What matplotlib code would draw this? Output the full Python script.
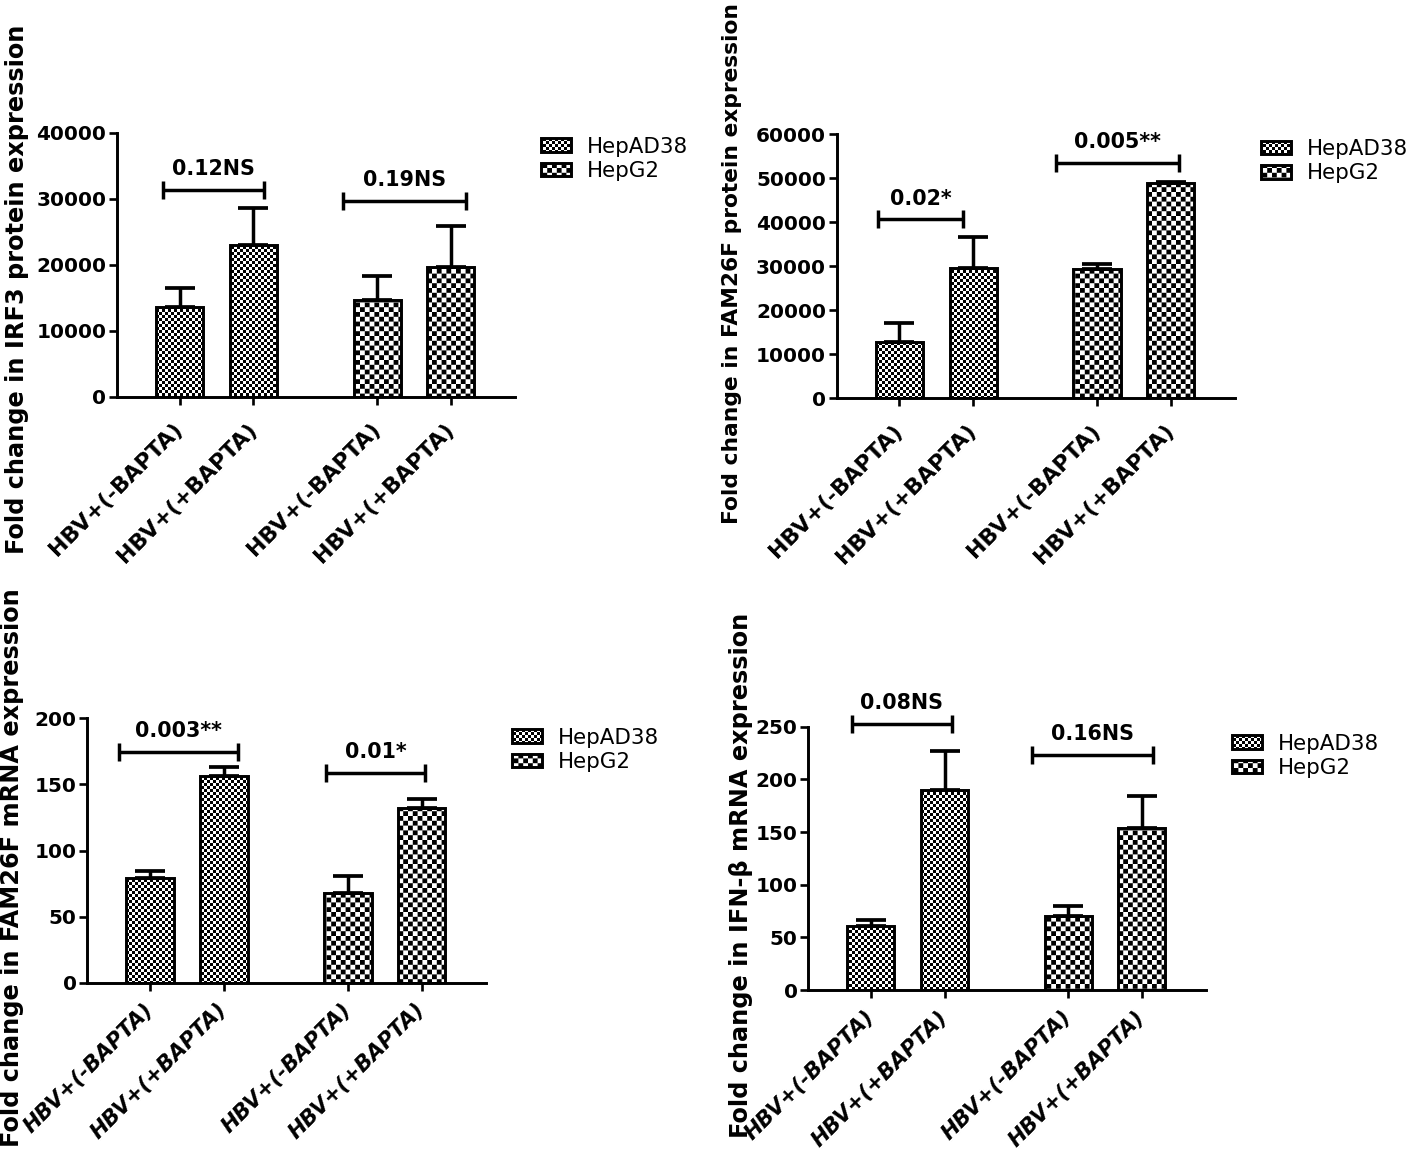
import numpy as np
import matplotlib
matplotlib.use('Agg')
import matplotlib.pyplot as plt
import matplotlib.hatch as mhatch
from matplotlib.path import Path

W, H, DPI = 1418, 1156, 96

# ---- data -------------------------------------------------------------
groups = ['HBV+(-BAPTA)', 'HBV+(+BAPTA)', 'HBV+(-BAPTA)', 'HBV+(+BAPTA)']
cell_lines = ['HepAD38', 'HepG2']

irf3_prot_mean = [13700, 23100, 14700, 19700]
irf3_prot_sem = [2800, 5600, 3600, 6200]
irf3_prot_p = ['0.12NS', '0.19NS']
irf3_prot_bracket = [31400, 29700]

fam_prot_mean = [12800, 29600, 29300, 48900]
fam_prot_sem = [4400, 7150, 1150, 350]
fam_prot_p = ['0.02*', '0.005**']
fam_prot_bracket = [40700, 53500]

fam_mrna_mean = [79, 156, 68, 132]
fam_mrna_sem = [5.5, 7, 12.5, 7]
fam_mrna_p = ['0.003**', '0.01*']
fam_mrna_bracket = [174.7, 158.9]

ifnb_mrna_mean = [61, 190, 70, 154]
ifnb_mrna_sem = [5.5, 37, 9.5, 30]
ifnb_mrna_p = ['0.08NS', '0.16NS']
ifnb_mrna_bracket = [253, 223]


# ---- checkerboard fill as a hatch pattern ------------------------------
class CheckerHatch(mhatch.HatchPatternBase):
    """Filled checkerboard, two cells per hatch character."""

    def __init__(self, hatch, density):
        self.n = 2 * (hatch.count('.') + hatch.count('o'))
        self.num_vertices = (self.n * self.n // 2) * 5

    def set_vertices_and_codes(self, vertices, codes):
        s = 1.0 / self.n
        sq = np.array([[0, 0], [s, 0], [s, s], [0, s], [0, 0]])
        sq_codes = [Path.MOVETO, Path.LINETO, Path.LINETO, Path.LINETO, Path.CLOSEPOLY]
        parts, cparts = [], []
        for i in range(self.n):
            for j in range(self.n):
                if (i + j) % 2 == 0:
                    parts.append(sq + [i * s, j * s])
                    cparts.append(sq_codes)
        vertices[:] = np.concatenate(parts)
        codes[:] = np.concatenate(cparts)


mhatch._hatch_types[:] = [CheckerHatch]
plt.rcParams['hatch.linewidth'] = 0.0
FINE = '.' * 16     # 32 cells per tile
COARSE = 'o' * 10   # 20 cells per tile

pos = np.array([0, 1, 2.68, 3.68])
XLIM = (-0.85, 4.55)

panels = [
    dict(mean=irf3_prot_mean, sem=irf3_prot_sem, p=irf3_prot_p, by=irf3_prot_bracket,
         spans=[(-0.23, 1.14), (2.21, 3.88)], ymax=40000, step=10000,
         ylabel='Fold change in IRF3 protein expression', ylab_fs=18,
         box=(117, 133, 515, 397), ylab=(17, 289), leg=(540.7, 136.6), italic=False),
    dict(mean=fam_prot_mean, sem=fam_prot_sem, p=fam_prot_p, by=fam_prot_bracket,
         spans=[(-0.29, 0.86), (2.12, 3.79)], ymax=60000, step=10000,
         ylabel='Fold change in FAM26F protein expression', ylab_fs=16.3,
         box=(836.7, 134.3, 1235, 398.3), ylab=(732, 264), leg=(1260.7, 139), italic=False),
    dict(mean=fam_mrna_mean, sem=fam_mrna_sem, p=fam_mrna_p, by=fam_mrna_bracket,
         spans=[(-0.42, 1.19), (2.38, 3.73)], ymax=200, step=50,
         ylabel='Fold change in FAM26F mRNA expression', ylab_fs=18,
         box=(87.3, 718.3, 486, 982.7), ylab=(12, 868), leg=(512, 727.6), italic=True),
    dict(mean=ifnb_mrna_mean, sem=ifnb_mrna_sem, p=ifnb_mrna_p, by=ifnb_mrna_bracket,
         spans=[(-0.26, 1.10), (2.19, 3.83)], ymax=250, step=50,
         ylabel='Fold change in IFN-\u03b2 mRNA expression', ylab_fs=18,
         box=(808.3, 726.7, 1206, 990), ylab=(741, 875), leg=(1232, 733.6), italic=True),
]

fig = plt.figure(figsize=(W / DPI, H / DPI), dpi=DPI)

for pn in panels:
    l, t, r, b = pn['box']
    ax = fig.add_axes([l / W, 1 - b / H, (r - l) / W, (b - t) / H])
    mean = np.array(pn['mean'])
    sem = np.array(pn['sem'])
    ekw = dict(elinewidth=2.6, capsize=11.5, capthick=2.8, ecolor='k')
    b1 = ax.bar(pos[:2], mean[:2], 0.64, yerr=[np.zeros(2), sem[:2]], color='white',
                edgecolor='black', linewidth=2.2, hatch=FINE, label=cell_lines[0], error_kw=ekw)
    b2 = ax.bar(pos[2:], mean[2:], 0.64, yerr=[np.zeros(2), sem[2:]], color='white',
                edgecolor='black', linewidth=2.2, hatch=COARSE, label=cell_lines[1], error_kw=ekw)

    # significance brackets
    for (x0, x1), y, txt in zip(pn['spans'], pn['by'], pn['p']):
        ax.plot([x0, x1], [y, y], color='k', lw=2.6, marker='|', ms=13, mew=2.6,
                clip_on=False, solid_capstyle='butt')
        ax.annotate(txt, xy=((x0 + x1) / 2, y), xytext=(0, 8), textcoords='offset points',
                    ha='center', va='bottom', fontsize=15.5, fontweight='bold',
                    annotation_clip=False)

    ax.set_xlim(*XLIM)
    ax.set_ylim(0, pn['ymax'])
    ax.set_yticks(np.arange(0, pn['ymax'] + 1, pn['step']))
    ax.set_xticks(pos)
    ax.set_xticklabels(groups, rotation=45, ha='right', va='center', rotation_mode='anchor',
                       fontsize=16 if pn['italic'] else 16.5, fontweight='bold',
                       fontstyle='italic' if pn['italic'] else 'normal')
    for lab in ax.get_yticklabels():
        lab.set_fontweight('bold')
        lab.set_fontsize(15)
    ax.tick_params(axis='both', direction='out', length=6, width=2)
    ax.tick_params(axis='y', pad=2)
    ax.tick_params(axis='x', pad=12 if pn['italic'] else 16)
    for side in ['top', 'right']:
        ax.spines[side].set_visible(False)
    for side in ['left', 'bottom']:
        ax.spines[side].set_linewidth(2.2)

    fig.text(pn['ylab'][0] / W, 1 - pn['ylab'][1] / H, pn['ylabel'], rotation=90,
             ha='center', va='center', fontsize=pn['ylab_fs'], fontweight='bold')

    lx, ly = pn['leg']
    ax.legend([b1, b2], cell_lines, loc='upper left', bbox_to_anchor=(lx / W, 1 - ly / H),
              bbox_transform=fig.transFigure, frameon=False, borderpad=0, borderaxespad=0,
              handlelength=1.4, handleheight=0.6, handletextpad=0.75, labelspacing=0.2,
              fontsize=16)

fig.savefig('out.png', dpi=DPI)
